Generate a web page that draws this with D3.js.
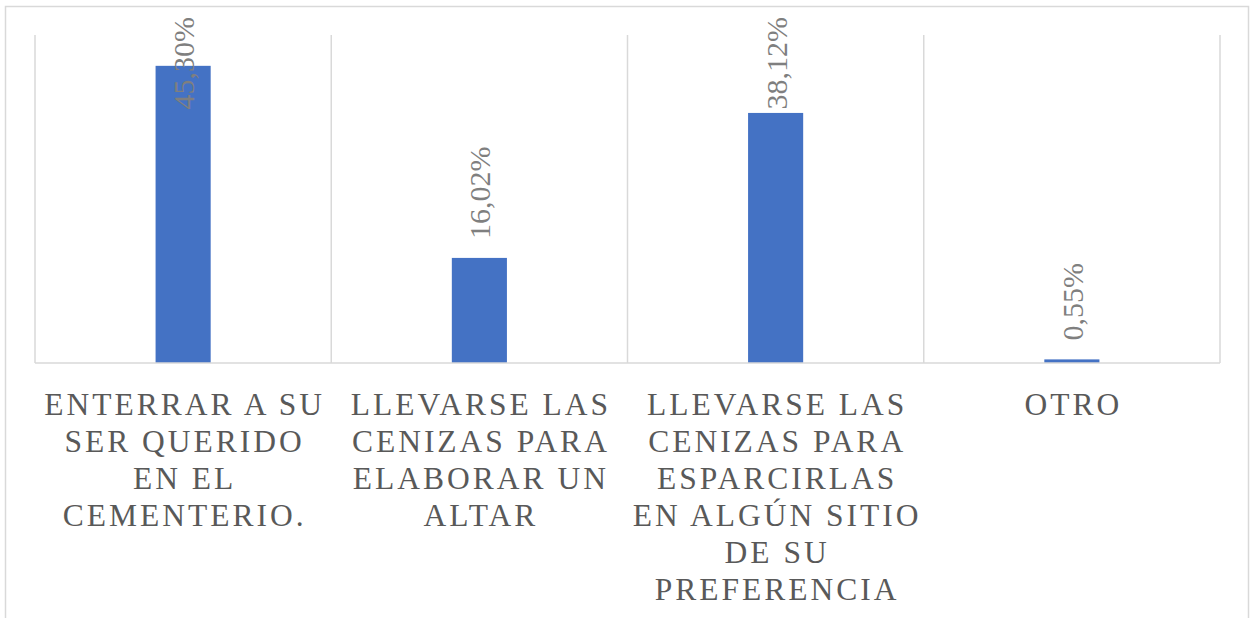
<!DOCTYPE html>
<html>
<head>
<meta charset="utf-8">
<script src="https://cdn.jsdelivr.net/npm/d3@7"></script>
<style>
  body { margin: 0; background: #fff; }
  svg { display: block; }
  text { font-family: "Liberation Serif", "Times New Roman", serif; }
</style>
</head>
<body>
<svg id="chart"></svg>
<script>
// chart data
const categories = ["c1", "c2", "c3", "c4"];
const categoryLines = [
    ["ENTERRAR A SU", "SER QUERIDO", "EN EL", "CEMENTERIO."],
    ["LLEVARSE LAS", "CENIZAS PARA", "ELABORAR UN", "ALTAR"],
    ["LLEVARSE LAS", "CENIZAS PARA", "ESPARCIRLAS", "EN ALGÚN SITIO", "DE SU", "PREFERENCIA"],
    ["OTRO"]
];
const values = [45.30, 16.02, 38.12, 0.55];
const valueLabels = ["45,30%", "16,02%", "38,12%", "0,55%"];

const width = 1254, height = 618;
const plot = { left: 35, right: 1220, top: 35, bottom: 363 };

const svg = d3.select("#chart")
    .attr("width", width)
    .attr("height", height);

// outer chart border
svg.append("rect")
    .attr("x", 5.5)
    .attr("y", 6.5)
    .attr("width", 1243)
    .attr("height", 640)
    .attr("fill", "none")
    .attr("stroke", "#d9d9d9")
    .attr("stroke-width", 1.5);

const x = d3.scaleBand()
    .domain(categories)
    .range([plot.left, plot.right])
    .padding(0);

const y = d3.scaleLinear()
    .domain([0, 50])
    .range([plot.bottom, plot.top]);

const barWidth = x.bandwidth() * 0.186;

// vertical gridlines at category boundaries
const edges = categories.map(c => x(c)).concat([plot.right]);
svg.selectAll("line.grid")
    .data(edges)
    .enter()
    .append("line")
    .attr("class", "grid")
    .attr("x1", d => d).attr("x2", d => d)
    .attr("y1", plot.top).attr("y2", plot.bottom)
    .attr("stroke", "#d9d9d9")
    .attr("stroke-width", 1.5);

// bars
svg.selectAll("rect.bar")
    .data(values)
    .enter()
    .append("rect")
    .attr("class", "bar")
    .attr("x", (d, i) => x(categories[i]) + x.bandwidth() / 2 - barWidth / 2)
    .attr("y", d => y(d))
    .attr("width", barWidth)
    .attr("height", d => y(0) - y(d))
    .attr("fill", "#4472c4");

// baseline
svg.append("line")
    .attr("x1", plot.left).attr("x2", plot.right)
    .attr("y1", plot.bottom).attr("y2", plot.bottom)
    .attr("stroke", "#d9d9d9")
    .attr("stroke-width", 1.5);

// value labels (rotated, pushed down to stay inside the chart)
svg.selectAll("text.value")
    .data(values)
    .enter()
    .append("text")
    .attr("class", "value")
    .text((d, i) => valueLabels[i])
    .attr("font-size", "30px")
    .attr("fill", "#7f7f7f")
    .attr("dy", "0.33em")
    .each(function(d, i) {
        const len = this.getComputedTextLength();
        const cx = x(categories[i]) + x.bandwidth() / 2 + 1;
        const start = Math.max(y(d) - 19, 17 + len);
        d3.select(this).attr("transform", `translate(${cx},${start}) rotate(-90)`);
    });

// category labels
const catGroups = svg.selectAll("g.cat")
    .data(categoryLines)
    .enter()
    .append("g")
    .attr("class", "cat")
    .attr("transform", (d, i) => `translate(${x(categories[i]) + x.bandwidth() / 2},0)`);

catGroups.append("text")
    .attr("text-anchor", "middle")
    .attr("font-size", "31.5px")
    .attr("letter-spacing", "3px")
    .attr("fill", "#595959")
    .selectAll("tspan")
    .data(d => d)
    .enter()
    .append("tspan")
    .attr("x", 1.5)
    .attr("y", (d, j) => 415 + j * 37)
    .text(d => d);
</script>
</body>
</html>
